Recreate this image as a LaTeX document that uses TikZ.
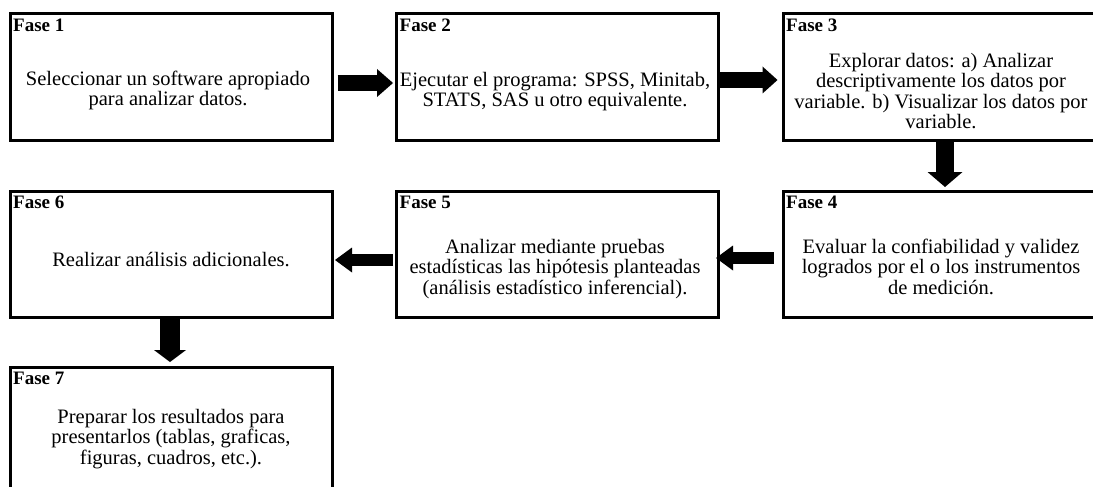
\documentclass[tikz,border=0pt]{standalone}
\usepackage{fontspec}
\setmainfont{Liberation Serif}
\usetikzlibrary{arrows.meta}
% centred block of lines whose baseline is that of its first line
\newcommand\stacklines[1]{\begin{tabular}[t]{@{}c@{}}#1\end{tabular}}

\begin{document}
\begin{tikzpicture}[x=1pt,y=-1pt,
  phase/.style={draw=black, line width=3pt, minimum width=322pt,
    minimum height=126pt, inner sep=0pt},
  phasetitle/.style={anchor=base west, inner sep=0pt,
    font=\fontsize{19}{20}\selectfont\bfseries},
  phasebody/.style={anchor=base, inner sep=0pt,
    font=\fontsize{20.5}{20.5}\selectfont},
  flow/.style n args={3}{line width=#1,
    -{Triangle[length=#3, width=#2, line width=0pt]}}
]
\useasboundingbox (0,0) rectangle (1093,487);
\fill[white] (0,0) rectangle (1093,487);
\clip (0,0) rectangle (1093,487);

% phase boxes
\node[phase] (f1) at (171,77)   {};
\node[phase] (f2) at (557.5,77) {};
\node[phase] (f3) at (944,77)   {};
\node[phase] (f6) at (171,254)  {};
\node[phase] (f5) at (557.5,254) {};
\node[phase] (f4) at (944,254)  {};
\node[phase] (f7) at (171,430)  {};

% titles
\node[phasetitle] (h1) at ([shift={(4.5,19)}]f1.north west) {Fase 1};
\node[phasetitle] (h2) at ([shift={(4.5,19)}]f2.north west) {Fase 2};
\node[phasetitle] (h3) at ([shift={(4.5,19)}]f3.north west) {Fase 3};
\node[phasetitle] (h4) at ([shift={(4.5,19)}]f4.north west) {Fase 4};
\node[phasetitle] (h5) at ([shift={(4.5,19)}]f5.north west) {Fase 5};
\node[phasetitle] (h6) at ([shift={(4.5,19)}]f6.north west) {Fase 6};
\node[phasetitle] (h7) at ([shift={(4.5,19)}]f7.north west) {Fase 7};

% descriptions
\node[phasebody] (t1) at (168,85)
  {\stacklines{Seleccionar un software apropiado\\para analizar datos.}};
\node[phasebody] (t2) at (555,86)
  {\stacklines{Ejecutar el programa: SPSS, Minitab,\\STATS, SAS u otro equivalente.}};
\node[phasebody] (t3) at (941,67)
  {\stacklines{Explorar datos: a) Analizar\\descriptivamente los datos por\\variable. b) Visualizar los datos por\\variable.}};
\node[phasebody] (t4) at (941,253)
  {\stacklines{Evaluar la confiabilidad y validez\\logrados por el o los instrumentos\\de medición.}};
\node[phasebody] (t5) at (555,253)
  {\stacklines{Analizar mediante pruebas\\estadísticas las hipótesis planteadas\\(análisis estadístico inferencial).}};
\node[phasebody] (t6) at (171,266)
  {\stacklines{Realizar análisis adicionales.}};
\node[phasebody] (t7) at (171,423)
  {\stacklines{Preparar los resultados para\\presentarlos (tablas, graficas,\\figuras, cuadros, etc.).}};

% block arrows between phases
\draw[flow={16pt}{28pt}{16pt}] ([shift={(4,6)}]f1.east) -- ([shift={(-2,6)}]f2.west);
\draw[flow={16pt}{27pt}{15pt}] ([shift={(0,3)}]f2.east) -- ([shift={(-4,3)}]f3.west);
\draw[flow={18pt}{35pt}{15pt}] ([shift={(1,0)}]f3.south) -- ([shift={(1,-2.5)}]f4.north);
\draw[flow={12pt}{25pt}{17pt}] ([shift={(-8,4)}]f4.west) -- ([shift={(-4,4)}]f5.east);
\draw[flow={12pt}{25pt}{17pt}] ([shift={(-2,6)}]f5.west) -- ([shift={(1.5,6)}]f6.east);
\draw[flow={20pt}{32pt}{12pt}] ([shift={(-1,0)}]f6.south) -- ([shift={(-1,-3.5)}]f7.north);
\end{tikzpicture}
\end{document}
